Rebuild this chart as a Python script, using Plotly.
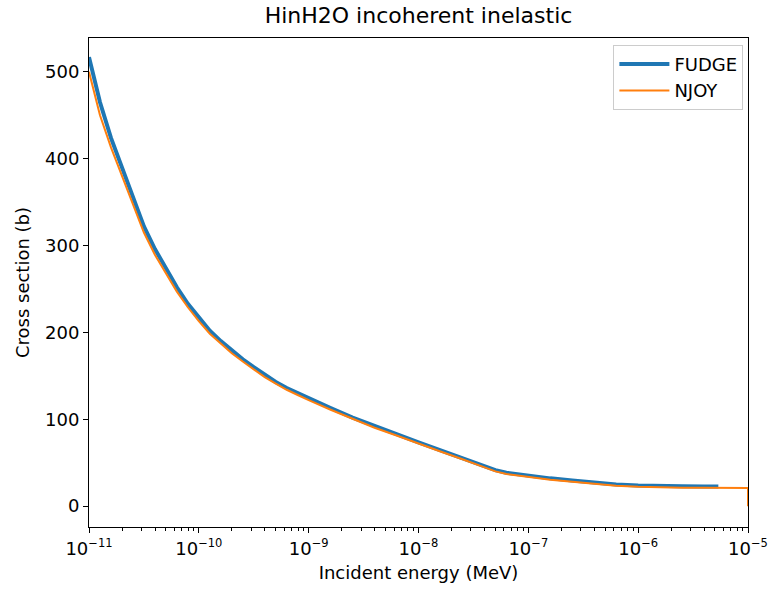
import plotly.graph_objects as go

# FUDGE data (incident energy in MeV, cross section in b)
fudge_energy = [1e-11, 1.259e-11, 1.585e-11, 1.995e-11, 2.512e-11, 3.162e-11, 3.981e-11, 5.012e-11,
                6.31e-11, 7.943e-11, 1e-10, 1.259e-10, 1.585e-10, 1.995e-10, 2.512e-10, 3.162e-10,
                3.981e-10, 5.012e-10, 6.31e-10, 7.943e-10, 1e-9, 1.585e-9, 2.512e-9, 3.981e-9,
                6.31e-9, 1e-8, 1.585e-8, 2.512e-8, 3.162e-8, 3.981e-8, 5.012e-8, 6.31e-8,
                1e-7, 1.585e-7, 2.512e-7, 3.981e-7, 6.31e-7, 1e-6, 1.585e-6, 2.512e-6,
                3.981e-6, 5.37e-6]
fudge_xs = [517, 465, 424, 389, 356, 322, 296, 273,
            252, 233, 217, 202, 190, 179, 169, 160,
            151, 143, 136, 130, 124, 113, 102, 92,
            83, 73.5, 64.5, 55.5, 51, 46.5, 41.5, 38.5,
            35, 32, 29.5, 27, 25, 23.8, 23, 22.8,
            22.6, 22.5]

# NJOY data
njoy_energy = [1e-11, 1.259e-11, 1.585e-11, 1.995e-11, 2.512e-11, 3.162e-11, 3.981e-11, 5.012e-11,
               6.31e-11, 7.943e-11, 1e-10, 1.259e-10, 1.585e-10, 1.995e-10, 2.512e-10, 3.162e-10,
               3.981e-10, 5.012e-10, 6.31e-10, 7.943e-10, 1e-9, 1.585e-9, 2.512e-9, 3.981e-9,
               6.31e-9, 1e-8, 1.585e-8, 2.512e-8, 3.162e-8, 3.981e-8, 5.012e-8, 6.31e-8,
               1e-7, 1.585e-7, 2.512e-7, 3.981e-7, 6.31e-7, 1e-6, 1.585e-6, 2.512e-6,
               3.981e-6, 6.31e-6, 1e-5, 1e-5]
njoy_xs = [500, 450, 413, 380, 348, 315, 289.5, 267.5,
           247, 229, 213, 198.5, 187, 176, 166.5, 157.5,
           148.5, 141, 134, 128, 122, 111, 100.3, 90.3,
           81.3, 71.8, 63, 54, 49.5, 45, 40, 37,
           33.5, 30.5, 28, 25.5, 23.5, 22.3, 21.6, 21.3,
           21.1, 21, 21, 0]

x_tick_vals = [1e-11, 1e-10, 1e-9, 1e-8, 1e-7, 1e-6, 1e-5]
x_tick_exps = ["−11", "−10", "−9", "−8", "−7", "−6", "−5"]
y_ticks = [0, 100, 200, 300, 400, 500]

x_tick_text = ['10<sup><span style="font-size:11.5px">%s</span></sup>' % e for e in x_tick_exps]

fig = go.Figure()
fig.add_trace(go.Scatter(x=fudge_energy, y=fudge_xs, mode="lines", name="FUDGE",
                         line=dict(color="#1f77b4", width=4)))
fig.add_trace(go.Scatter(x=njoy_energy, y=njoy_xs, mode="lines", name="NJOY",
                         line=dict(color="#ff7f0e", width=2)))

font = "DejaVu Sans, sans-serif"
fig.update_layout(
    width=769, height=591,
    margin=dict(l=89, r=21, t=38, b=64),
    paper_bgcolor="white", plot_bgcolor="white",
    font=dict(family=font, size=18, color="black"),
    title=dict(text="HinH2O incoherent inelastic", x=0.5, xref="paper", xanchor="center",
               y=1 - 15 / 591, yanchor="middle", font=dict(size=22)),
    legend=dict(x=0.993, y=0.986, xanchor="right", yanchor="top",
                bordercolor="#cccccc", borderwidth=1, bgcolor="rgba(255,255,255,0.8)",
                font=dict(size=18), itemwidth=50),
    showlegend=True,
)
fig.update_xaxes(
    type="log", range=[-11, -5], tickvals=x_tick_vals, ticktext=x_tick_text,
    automargin=False, ticklabeloverflow="allow",
    showline=True, linecolor="black", linewidth=1, mirror=True,
    ticks="outside", ticklen=5, tickcolor="black", showgrid=False, zeroline=False,
    tickfont=dict(size=18),
    minor=dict(ticks="outside", ticklen=3, tickcolor="black", showgrid=False, dtick="D1"),
    title=dict(text="Incident energy (MeV)", standoff=8, font=dict(size=18)),
)
fig.update_yaxes(
    range=[-24, 539], tickvals=y_ticks, automargin=False,
    showline=True, linecolor="black", linewidth=1, mirror=True,
    ticks="outside", ticklen=5, tickcolor="black", showgrid=False, zeroline=False,
    tickfont=dict(size=18),
    title=dict(text="Cross section (b)", standoff=10, font=dict(size=18)),
)

fig.write_html("out.html")
